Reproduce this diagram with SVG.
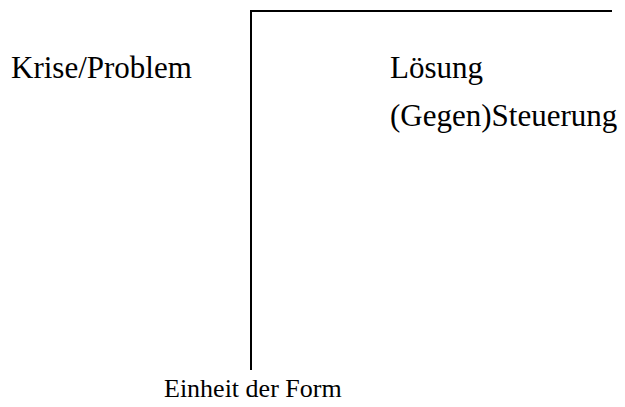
<svg xmlns="http://www.w3.org/2000/svg" width="625" height="407" viewBox="0 0 625 407">
  <style>
    text { fill: #000; }
    .rule { stroke: #000; stroke-width: 2; fill: none; }
  </style>
  <rect width="625" height="407" fill="#fff"/>
  <g id="connectors">
    <path class="rule" d="M251,370 V11 H612"/>
  </g>
  <g font-family="'Liberation Serif', 'Times New Roman', serif">
    <g id="krise">
      <text x="11" y="78" font-size="31">Krise/Problem</text>
    </g>
    <g id="loesung">
      <text x="390" y="78" font-size="31">Lösung</text>
    </g>
    <g id="steuerung">
      <text x="390" y="126" font-size="31">(Gegen)Steuerung</text>
    </g>
    <g id="einheit">
      <text x="164" y="397" font-size="26">Einheit der Form</text>
    </g>
  </g>
</svg>
